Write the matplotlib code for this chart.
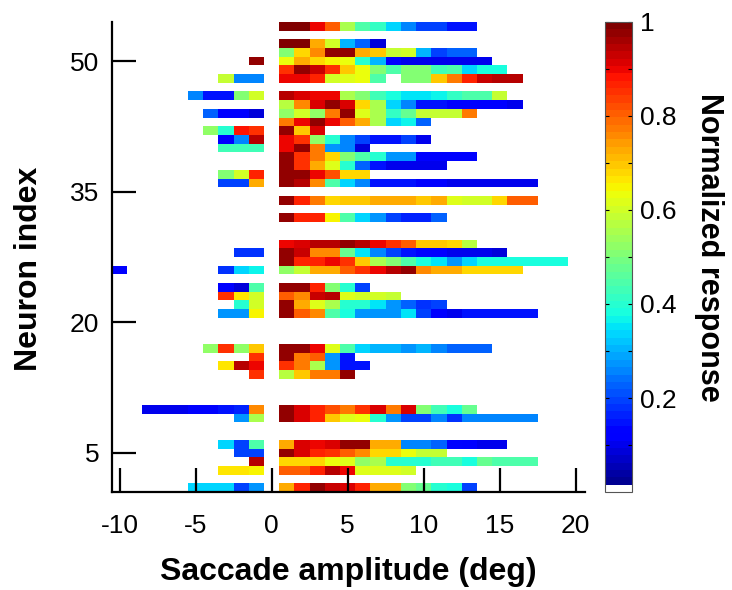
import numpy as np
import matplotlib
matplotlib.use('Agg')
import matplotlib.pyplot as plt
from matplotlib.colors import ListedColormap

plt.rcParams['font.family'] = ['Liberation Sans', 'DejaVu Sans']
plt.rcParams['axes.unicode_minus'] = False

nan = np.nan

# Saccade amplitude bins (deg); 0 deg has no data
amplitudes = np.arange(-10, 20)
n_neurons = 54

# Normalized response for positive amplitudes, starting at +1 deg
pos_response = {
    54: [1.0, 1.0, 0.9, 0.8, 0.55, 0.45, 0.42, 0.33, 0.25, 0.2, 0.2, 0.15, 0.15],
    52: [1.0, 1.0, 0.72, 0.6, 0.3, 0.22, 0.08],
    51: [0.5, 0.68, 0.75, 0.98, 0.98, 0.73, 0.7, 0.58, 0.6, 0.3, 0.2, 0.22, 0.22],
    50: [0.63, 0.72, 0.68, 0.65, 0.63, 0.4, 0.3, 0.13, 0.1, 0.1, 0.1, 0.1, 0.1, 0.1],
    49: [0.85, 0.98, 0.93, 0.85, 0.7, 0.63, 0.5, 0.45, 0.5, 0.5, 0.43, 0.45, 0.33, 0.38, 0.38],
    48: [0.9, 0.9, 0.87, 0.6, 0.62, 0.63, 0.45, nan, 0.5, 0.5, 0.7, 0.78, 0.87, 0.93, 0.95, 0.95],
    46: [0.95, 0.92, 0.9, 0.9, 0.55, 0.5, 0.43, 0.38, 0.35, 0.35, 0.37, 0.42, 0.45, 0.45, 0.58],
    45: [0.57, 0.75, 0.92, 0.97, 0.92, 0.68, 0.55, 0.33, 0.25, 0.15, 0.15, 0.13, 0.13, 0.12, 0.12, 0.1],
    44: [0.52, 0.6, 0.52, 0.78, 0.97, 0.62, 0.55, 0.42, 0.48, 0.58, 0.58, 0.58, 0.78],
    43: [0.78, 0.9, 0.97, 0.9, 0.8, 0.73, 0.55, 0.33, 0.36, 0.22],
    42: [0.97, 0.7, 0.92],
    41: [0.9, 0.85, 0.53, 0.4, 0.25, 0.2, 0.15, 0.15, 0.2, 0.1],
    40: [0.9, 0.97, 0.78, 0.28, 0.25, 0.08],
    39: [0.97, 0.85, 0.78, 0.68, 0.5, 0.45, 0.4, 0.28, 0.28, 0.13, 0.13, 0.13, 0.13],
    38: [0.97, 0.85, 0.73, 0.62, 0.4, 0.22, 0.15, 0.1, 0.1, 0.1, 0.1],
    37: [0.97, 0.97, 0.9, 0.82, 0.68, 0.68],
    36: [0.97, 0.95, 0.75, 0.45, 0.33, 0.25, 0.15, 0.15, 0.15, 0.12, 0.12, 0.1, 0.1, 0.1, 0.1, 0.1, 0.1],
    34: [0.97, 0.87, 0.77, 0.68, 0.7, 0.7, 0.72, 0.72, 0.73, 0.7, 0.72, 0.62, 0.6, 0.6, 0.68, 0.8, 0.8],
    32: [0.97, 0.87, 0.87, 0.65, 0.45, 0.33, 0.27, 0.2, 0.17, 0.17, 0.22],
    29: [0.9, 0.92, 0.95, 0.95, 0.97, 0.95, 0.9, 0.85, 0.8, 0.7, 0.7, 0.68, 0.57],
    28: [0.97, 0.93, 0.75, 0.75, 0.48, 0.35, 0.25, 0.2, 0.15, 0.13, 0.12, 0.1, 0.1, 0.1, 0.08],
    27: [0.97, 0.87, 0.87, 0.9, 0.85, 0.7, 0.55, 0.5, 0.45, 0.38, 0.35, 0.28, 0.33, 0.38, 0.38, 0.38, 0.38, 0.38, 0.38],
    26: [0.52, 0.58, 0.72, 0.72, 0.8, 0.85, 0.9, 0.95, 0.97, 0.75, 0.73, 0.72, 0.68, 0.68, 0.68, 0.68],
    24: [0.97, 0.97, 0.87, 0.5, 0.4, 0.2],
    23: [0.8, 0.75, 0.93, 0.95, 0.62, 0.6, 0.6, 0.58],
    22: [0.97, 0.73, 0.62, 0.55, 0.4, 0.4, 0.35, 0.28, 0.22, 0.18, 0.2],
    21: [0.97, 0.8, 0.75, 0.45, 0.38, 0.28, 0.28, 0.28, 0.35, 0.2, 0.12, 0.1, 0.15, 0.15, 0.15, 0.15, 0.15],
    17: [0.97, 0.97, 0.9, 0.62, 0.45, 0.33, 0.3, 0.3, 0.28, 0.3, 0.25, 0.22, 0.22, 0.22],
    16: [0.97, 0.77, 0.8, 0.28, 0.15],
    15: [0.85, 0.77, 0.56, 0.28, 0.15, 0.15],
    14: [0.57, 0.7, 0.77, 0.77, 0.97],
    10: [0.97, 0.92, 0.87, 0.82, 0.77, 0.85, 0.92, 0.78, 0.92, 0.5, 0.43, 0.38, 0.48],
    9: [0.97, 0.92, 0.87, 0.7, 0.62, 0.63, 0.4, 0.27, 0.2, 0.2, 0.25, 0.18, 0.25, 0.25, 0.25, 0.25, 0.25],
    6: [0.72, 0.92, 0.9, 0.92, 0.97, 0.97, 0.72, 0.72, 0.25, 0.25, 0.23, 0.13, 0.12, 0.1, 0.1],
    5: [0.97, 0.92, 0.87, 0.85, 0.8, 0.75, 0.68, 0.68, 0.63, 0.58, 0.58],
    4: [0.68, 0.68, 0.68, 0.63, 0.62, 0.52, 0.55, 0.4, 0.4, 0.4, 0.43, 0.43, 0.38, 0.47, 0.45, 0.44, 0.44],
    3: [0.8, 0.8, 0.87, 0.95, 0.9, 0.62, 0.62, 0.62, 0.6],
    1: [0.72, 0.87, 0.97, 0.93, 0.92, 0.87, 0.72, 0.72, 0.5, 0.48, 0.4, 0.38, 0.2],
}

# Normalized response for negative amplitudes, starting at -1 deg going outward
neg_response = {
    50: [0.97],
    48: [0.25, 0.25, 0.58],
    46: [0.6, 0.5, 0.15, 0.15, 0.25],
    44: [0.08, 0.12, 0.12, 0.22],
    42: [0.85, 0.88, 0.4, 0.52],
    41: [0.95, 0.25, 0.12],
    40: [0.43, 0.43, 0.43],
    37: [0.87, 0.6, 0.5],
    36: [0.72, 0.2, 0.2],
    28: [0.18, 0.18],
    26: [0.36, 0.33, 0.18, nan, nan, nan, nan, nan, nan, 0.12],
    24: [0.45, 0.08, 0.12],
    23: [0.6, 0.66, 0.85],
    22: [0.6, 0.4],
    21: [0.65, 0.28, 0.28],
    17: [0.7, 0.53, 0.85, 0.53],
    16: [0.85],
    15: [0.9, 0.95, 0.67],
    14: [0.85],
    10: [0.75, 0.17, 0.15, 0.13, 0.11, 0.1, 0.1, 0.1],
    9: [0.55, 0.27],
    6: [0.45, 0.2, 0.33],
    5: [0.2, 0.2],
    4: [0.95],
    3: [0.65, 0.67, 0.67],
    1: [0.27, 0.2, 0.33, 0.33, 0.33],
}

x_ticks = [-10, -5, 0, 5, 10, 15, 20]
y_ticks = [5, 20, 35, 50]
cbar_ticks = [0.1, 0.2, 0.3, 0.4, 0.5, 0.6, 0.7, 0.8, 0.9, 1.0]
cbar_labels = ['', '0.2', '', '0.4', '', '0.6', '', '0.8', '', '1']

# ---- build grid ----
Z = np.full((n_neurons, len(amplitudes)), np.nan)
amp_index = {a: i for i, a in enumerate(amplitudes)}
for n, vals in pos_response.items():
    for k, v in enumerate(vals):
        Z[n - 1, amp_index[k + 1]] = v
for n, vals in neg_response.items():
    for k, v in enumerate(vals):
        Z[n - 1, amp_index[-(k + 1)]] = v
Zm = np.ma.masked_invalid(Z)

x_edges = np.append(amplitudes - 0.5, amplitudes[-1] + 0.5)
y_edges = np.arange(0.5, n_neurons + 1.5, 1)

colors = plt.get_cmap('jet')(np.linspace(0, 1, 64))
colors[0] = [1, 1, 1, 1]
cmap = ListedColormap(colors)
cmap.set_bad((1, 1, 1, 0))

W, H = 732, 590
fig = plt.figure(figsize=(W / 100, H / 100), dpi=100)
ax = fig.add_axes([0.153, 0.166, 0.646, 0.797])
mesh = ax.pcolormesh(x_edges, y_edges, Zm, cmap=cmap, vmin=0, vmax=1,
                     shading='flat', edgecolors='none')

ax.set_xlim(-10.5, 20.6)
ax.set_ylim(0.5, 54.5)
for s in ['top', 'right']:
    ax.spines[s].set_visible(False)
for s in ['left', 'bottom']:
    ax.spines[s].set_linewidth(1.6)
ax.set_xticks(x_ticks)
ax.set_yticks(y_ticks)
ax.tick_params(axis='both', direction='in', length=17.5, width=1.6,
               labelsize=19)
ax.tick_params(axis='x', pad=16)
ax.tick_params(axis='y', pad=9)

fig.text(348 / W, 1 - 580 / H, 'Saccade amplitude (deg)', fontsize=23,
         fontweight='bold', ha='center', va='baseline')
fig.text(29 / W, 1 - 269 / H, 'Neuron index', fontsize=23,
         fontweight='bold', ha='center', va='center', rotation=90)

cax = fig.add_axes([0.8265, 0.166, 0.0369, 0.797])
cb = fig.colorbar(mesh, cax=cax, ticks=cbar_ticks)
cb.ax.set_yticklabels(cbar_labels)
cb.outline.set_linewidth(0.8)
cb.outline.set_edgecolor('#555555')
cax.tick_params(axis='y', direction='in', left=True, right=True,
                length=3, width=0.8, labelsize=19, pad=6)
fig.text(709 / W, 1 - 247 / H, 'Normalized response', fontsize=22,
         fontweight='bold', ha='center', va='center', rotation=270)

fig.savefig('out.png', dpi=100)
